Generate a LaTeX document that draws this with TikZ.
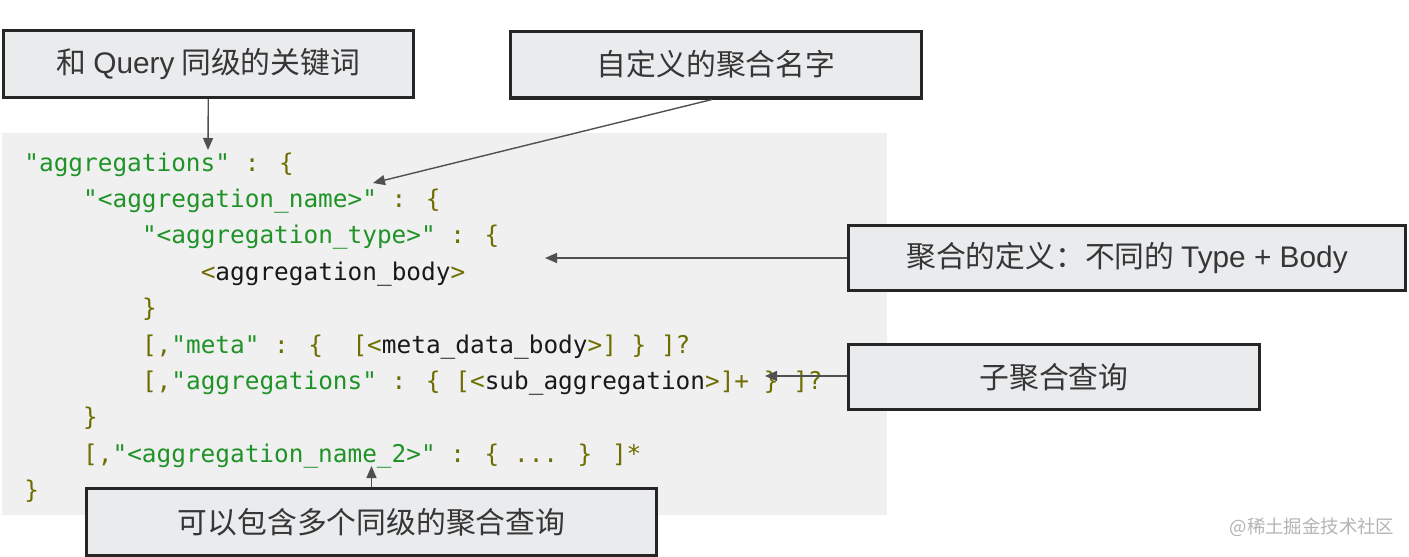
\documentclass[tikz,border=0pt]{standalone}
\usepackage{fontspec}
\setmainfont{Noto Sans CJK SC}
\newfontfamily\codefont{DejaVu Sans Mono}
\newfontfamily\latinfont{Liberation Sans}
\usepackage{xcolor}
\usetikzlibrary{arrows.meta,positioning}

\definecolor{codebg}{HTML}{F0F0F0}
\definecolor{notefill}{HTML}{E9EBED}
\definecolor{noteline}{HTML}{262626}
\definecolor{notetext}{HTML}{363636}
\definecolor{strgreen}{HTML}{1F9327}
\definecolor{punolive}{HTML}{6E6E00}
\definecolor{arrowgray}{HTML}{505050}
\definecolor{markgray}{HTML}{B4B4B4}

\newcommand{\jstr}[1]{\textcolor{strgreen}{#1}}
\newcommand{\jpun}[1]{\textcolor{punolive}{#1}}

\begin{document}
\begin{tikzpicture}[
  x=0.5pt, y=-0.5pt,
  note/.style={draw=noteline, line width=1.6pt, fill=notefill, text=notetext, inner sep=0pt, font=\fontsize{14.9}{17}\selectfont},
  codeln/.style={anchor=base west, inner sep=0pt, text=black!90, font=\codefont\fontsize{12.2}{14}\selectfont},
  arrow/.style={-{Triangle[length=6pt,width=5pt]}, draw=arrowgray, line width=0.7pt},
]
  \useasboundingbox (0,0) rectangle (1409,557);
  \fill[white] (0,0) rectangle (1409,557);

  % Code panel
  \fill[codebg] (2,133) rectangle (887,515);

  % Code lines
  \node[codeln] (line1) at (24,171) {\jstr{"aggregations"} \jpun{: \{}};
  \node[codeln] (line2) at (82.8,207.4) {\jstr{"<aggregation\_name>"} \jpun{: \{}};
  \node[codeln] (line3) at (141.6,243.8) {\jstr{"<aggregation\_type>"} \jpun{: \{}};
  \node[codeln] (line4) at (200.4,280.2) {\jpun{<}aggregation\_body\jpun{>}};
  \node[codeln] (line5) at (141.6,316.6) {\jpun{\}}};
  \node[codeln] (line6) at (141.6,353) {\jpun{[,}\jstr{"meta"} \jpun{: \{~~[<}meta\_data\_body\jpun{>] \} ]?}};
  \node[codeln] (line7) at (141.6,389.4) {\jpun{[,}\jstr{"aggregations"} \jpun{: \{ [<}sub\_aggregation\jpun{>]+ \} ]?}};
  \node[codeln] (line8) at (82.8,425.8) {\jpun{\}}};
  \node[codeln] (line9) at (82.8,462.2) {\jpun{[,}\jstr{"<aggregation\_name\_2>"} \jpun{: \{ ... \} ]*}};
  \node[codeln] (line10) at (24,498.6) {\jpun{\}}};

  % Notes
  \node[note, minimum width=205pt, minimum height=33.4pt] (kwbox) at (208.5,64) {和 {\latinfont Query} 同级的关键词};
  \node[note, minimum width=205.4pt, minimum height=33.4pt] (namebox) at (716,64.5) {自定义的聚合名字};
  \node[note, minimum width=278.4pt, minimum height=32.4pt] (defbox) at (1127,258) {聚合的定义：不同的 {\latinfont Type + Body}};
  \node[note, minimum width=205.4pt, minimum height=32.4pt] (subbox) at (1054,377) {子聚合查询};
  \node[note, minimum width=285pt, minimum height=33.4pt] (multibox) at (371.5,522) {可以包含多个同级的聚合查询};

  % Arrow tips
  \coordinate (kwtip) at (208,150);
  \coordinate (nametip) at (373,183);
  \coordinate (deftip) at (545,258);
  \coordinate (subtip) at (765,376);
  \coordinate (multitip) at (371.5,466);

  \draw[arrow] (kwbox) -- (kwtip);
  \draw[arrow] ([xshift=-2pt]namebox.south) -- (nametip);
  \draw[arrow] (defbox) -- (deftip);
  \draw[arrow] (subbox.west |- subtip) -- (subtip);
  \draw[arrow] (multibox) -- (multitip);

  % Watermark
  \node[text=markgray, inner sep=0pt, font=\fontsize{9.2}{11}\selectfont] (mark) at (1312,527) {@稀土掘金技术社区};

\end{tikzpicture}
\end{document}
